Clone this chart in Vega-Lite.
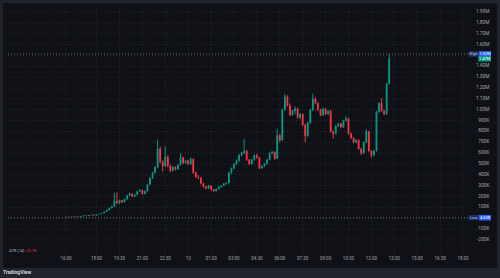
{
  "$schema": "https://vega.github.io/schema/vega-lite/v6.json",
  "width": 494,
  "height": 265,
  "autosize": "none",
  "padding": {"left": 3, "top": 3, "right": 3, "bottom": 10},
  "background": "#20232c",
  "title": {"text": "TradingView", "orient": "bottom", "anchor": "start", "fontSize": 5, "font": "Roboto", "fontWeight": "bold", "color": "#d1d4dc", "offset": 2},
  "config": {
    "view": {"fill": "#0f1117", "stroke": null},
    "font": "Roboto",
    "axis": {"disable": true}
  },
  "datasets": {
    "candles": [
      {"t":"2024-03-12T16:00Z","o":12,"h":15,"l":4.6,"c":10},
      {"t":"2024-03-12T16:10Z","o":10,"h":14,"l":8,"c":12},
      {"t":"2024-03-12T16:20Z","o":12,"h":16,"l":10,"c":14},
      {"t":"2024-03-12T16:30Z","o":14,"h":15,"l":9,"c":11},
      {"t":"2024-03-12T16:40Z","o":11,"h":16,"l":10,"c":15},
      {"t":"2024-03-12T16:50Z","o":15,"h":18,"l":12,"c":13},
      {"t":"2024-03-12T17:00Z","o":13,"h":22,"l":12,"c":20},
      {"t":"2024-03-12T17:10Z","o":20,"h":27,"l":18,"c":24},
      {"t":"2024-03-12T17:20Z","o":24,"h":26,"l":19,"c":21},
      {"t":"2024-03-12T17:30Z","o":21,"h":30,"l":20,"c":28},
      {"t":"2024-03-12T17:40Z","o":28,"h":34,"l":25,"c":31},
      {"t":"2024-03-12T17:50Z","o":31,"h":33,"l":24,"c":26},
      {"t":"2024-03-12T18:00Z","o":26,"h":36,"l":25,"c":34},
      {"t":"2024-03-12T18:10Z","o":34,"h":42,"l":32,"c":39},
      {"t":"2024-03-12T18:20Z","o":39,"h":50,"l":37,"c":47},
      {"t":"2024-03-12T18:30Z","o":47,"h":64,"l":45,"c":61},
      {"t":"2024-03-12T18:40Z","o":61,"h":80,"l":58,"c":76},
      {"t":"2024-03-12T18:50Z","o":76,"h":98,"l":72,"c":94},
      {"t":"2024-03-12T19:00Z","o":94,"h":115,"l":90,"c":108},
      {"t":"2024-03-12T19:10Z","o":108,"h":232,"l":104,"c":160},
      {"t":"2024-03-12T19:20Z","o":160,"h":238,"l":128,"c":138},
      {"t":"2024-03-12T19:30Z","o":138,"h":172,"l":130,"c":166},
      {"t":"2024-03-12T19:40Z","o":166,"h":170,"l":140,"c":148},
      {"t":"2024-03-12T19:50Z","o":148,"h":182,"l":144,"c":176},
      {"t":"2024-03-12T20:00Z","o":176,"h":216,"l":172,"c":210},
      {"t":"2024-03-12T20:10Z","o":210,"h":236,"l":204,"c":226},
      {"t":"2024-03-12T20:20Z","o":226,"h":230,"l":195,"c":201},
      {"t":"2024-03-12T20:30Z","o":201,"h":222,"l":196,"c":216},
      {"t":"2024-03-12T20:40Z","o":216,"h":252,"l":212,"c":246},
      {"t":"2024-03-12T20:50Z","o":246,"h":268,"l":240,"c":258},
      {"t":"2024-03-12T21:00Z","o":258,"h":262,"l":218,"c":224},
      {"t":"2024-03-12T21:10Z","o":224,"h":256,"l":220,"c":250},
      {"t":"2024-03-12T21:20Z","o":250,"h":318,"l":246,"c":310},
      {"t":"2024-03-12T21:30Z","o":310,"h":378,"l":304,"c":370},
      {"t":"2024-03-12T21:40Z","o":370,"h":428,"l":362,"c":420},
      {"t":"2024-03-12T21:50Z","o":420,"h":480,"l":412,"c":470},
      {"t":"2024-03-12T22:00Z","o":470,"h":725,"l":462,"c":640},
      {"t":"2024-03-12T22:10Z","o":640,"h":660,"l":505,"c":520},
      {"t":"2024-03-12T22:20Z","o":520,"h":535,"l":430,"c":480},
      {"t":"2024-03-12T22:30Z","o":480,"h":665,"l":472,"c":565},
      {"t":"2024-03-12T22:40Z","o":565,"h":580,"l":470,"c":482},
      {"t":"2024-03-12T22:50Z","o":482,"h":495,"l":425,"c":438},
      {"t":"2024-03-12T23:00Z","o":438,"h":480,"l":432,"c":472},
      {"t":"2024-03-12T23:10Z","o":472,"h":478,"l":440,"c":452},
      {"t":"2024-03-12T23:20Z","o":452,"h":500,"l":446,"c":492},
      {"t":"2024-03-12T23:30Z","o":492,"h":600,"l":486,"c":560},
      {"t":"2024-03-12T23:40Z","o":560,"h":568,"l":500,"c":510},
      {"t":"2024-03-12T23:50Z","o":510,"h":540,"l":502,"c":532},
      {"t":"2024-03-13T00:00Z","o":532,"h":538,"l":490,"c":498},
      {"t":"2024-03-13T00:10Z","o":498,"h":560,"l":492,"c":545},
      {"t":"2024-03-13T00:20Z","o":545,"h":552,"l":412,"c":420},
      {"t":"2024-03-13T00:30Z","o":420,"h":430,"l":372,"c":380},
      {"t":"2024-03-13T00:40Z","o":380,"h":398,"l":360,"c":372},
      {"t":"2024-03-13T00:50Z","o":372,"h":378,"l":312,"c":320},
      {"t":"2024-03-13T01:00Z","o":320,"h":326,"l":282,"c":290},
      {"t":"2024-03-13T01:10Z","o":290,"h":296,"l":266,"c":275},
      {"t":"2024-03-13T01:20Z","o":275,"h":308,"l":270,"c":300},
      {"t":"2024-03-13T01:30Z","o":300,"h":306,"l":258,"c":265},
      {"t":"2024-03-13T01:40Z","o":265,"h":270,"l":244,"c":250},
      {"t":"2024-03-13T01:50Z","o":250,"h":276,"l":246,"c":270},
      {"t":"2024-03-13T02:00Z","o":270,"h":296,"l":264,"c":290},
      {"t":"2024-03-13T02:10Z","o":290,"h":306,"l":282,"c":300},
      {"t":"2024-03-13T02:20Z","o":300,"h":326,"l":294,"c":320},
      {"t":"2024-03-13T02:30Z","o":320,"h":332,"l":310,"c":326},
      {"t":"2024-03-13T02:40Z","o":326,"h":428,"l":320,"c":420},
      {"t":"2024-03-13T02:50Z","o":420,"h":468,"l":410,"c":460},
      {"t":"2024-03-13T03:00Z","o":460,"h":508,"l":452,"c":500},
      {"t":"2024-03-13T03:10Z","o":500,"h":540,"l":492,"c":530},
      {"t":"2024-03-13T03:20Z","o":530,"h":590,"l":522,"c":580},
      {"t":"2024-03-13T03:30Z","o":580,"h":612,"l":572,"c":600},
      {"t":"2024-03-13T03:40Z","o":600,"h":730,"l":592,"c":622},
      {"t":"2024-03-13T03:50Z","o":622,"h":630,"l":528,"c":540},
      {"t":"2024-03-13T04:00Z","o":540,"h":548,"l":490,"c":500},
      {"t":"2024-03-13T04:10Z","o":500,"h":546,"l":494,"c":540},
      {"t":"2024-03-13T04:20Z","o":540,"h":588,"l":532,"c":580},
      {"t":"2024-03-13T04:30Z","o":580,"h":596,"l":550,"c":560},
      {"t":"2024-03-13T04:40Z","o":560,"h":566,"l":452,"c":462},
      {"t":"2024-03-13T04:50Z","o":462,"h":490,"l":456,"c":482},
      {"t":"2024-03-13T05:00Z","o":482,"h":508,"l":474,"c":502},
      {"t":"2024-03-13T05:10Z","o":502,"h":548,"l":496,"c":540},
      {"t":"2024-03-13T05:20Z","o":540,"h":608,"l":534,"c":600},
      {"t":"2024-03-13T05:30Z","o":600,"h":622,"l":590,"c":612},
      {"t":"2024-03-13T05:40Z","o":612,"h":618,"l":540,"c":550},
      {"t":"2024-03-13T05:50Z","o":550,"h":822,"l":544,"c":765},
      {"t":"2024-03-13T06:00Z","o":765,"h":778,"l":700,"c":720},
      {"t":"2024-03-13T06:10Z","o":720,"h":1010,"l":712,"c":1000},
      {"t":"2024-03-13T06:20Z","o":1000,"h":1150,"l":990,"c":1120},
      {"t":"2024-03-13T06:30Z","o":1120,"h":1135,"l":1030,"c":1040},
      {"t":"2024-03-13T06:40Z","o":1040,"h":1060,"l":940,"c":952},
      {"t":"2024-03-13T06:50Z","o":952,"h":1000,"l":944,"c":990},
      {"t":"2024-03-13T07:00Z","o":990,"h":1030,"l":960,"c":1010},
      {"t":"2024-03-13T07:10Z","o":1010,"h":1018,"l":920,"c":930},
      {"t":"2024-03-13T07:20Z","o":930,"h":970,"l":912,"c":960},
      {"t":"2024-03-13T07:30Z","o":960,"h":966,"l":850,"c":862},
      {"t":"2024-03-13T07:40Z","o":862,"h":870,"l":700,"c":760},
      {"t":"2024-03-13T07:50Z","o":760,"h":890,"l":752,"c":880},
      {"t":"2024-03-13T08:00Z","o":880,"h":1010,"l":872,"c":1000},
      {"t":"2024-03-13T08:10Z","o":1000,"h":1150,"l":992,"c":1100},
      {"t":"2024-03-13T08:20Z","o":1100,"h":1115,"l":1050,"c":1060},
      {"t":"2024-03-13T08:30Z","o":1060,"h":1070,"l":990,"c":1000},
      {"t":"2024-03-13T08:40Z","o":1000,"h":1010,"l":940,"c":950},
      {"t":"2024-03-13T08:50Z","o":950,"h":1020,"l":944,"c":1010},
      {"t":"2024-03-13T09:00Z","o":1010,"h":1016,"l":950,"c":960},
      {"t":"2024-03-13T09:10Z","o":960,"h":1000,"l":952,"c":990},
      {"t":"2024-03-13T09:20Z","o":990,"h":998,"l":790,"c":800},
      {"t":"2024-03-13T09:30Z","o":800,"h":808,"l":730,"c":780},
      {"t":"2024-03-13T09:40Z","o":780,"h":858,"l":772,"c":850},
      {"t":"2024-03-13T09:50Z","o":850,"h":880,"l":840,"c":872},
      {"t":"2024-03-13T10:00Z","o":872,"h":880,"l":830,"c":840},
      {"t":"2024-03-13T10:10Z","o":840,"h":908,"l":832,"c":900},
      {"t":"2024-03-13T10:20Z","o":900,"h":945,"l":892,"c":920},
      {"t":"2024-03-13T10:30Z","o":920,"h":926,"l":772,"c":780},
      {"t":"2024-03-13T10:40Z","o":780,"h":790,"l":732,"c":740},
      {"t":"2024-03-13T10:50Z","o":740,"h":748,"l":692,"c":700},
      {"t":"2024-03-13T11:00Z","o":700,"h":730,"l":690,"c":722},
      {"t":"2024-03-13T11:10Z","o":722,"h":728,"l":632,"c":640},
      {"t":"2024-03-13T11:20Z","o":640,"h":648,"l":582,"c":600},
      {"t":"2024-03-13T11:30Z","o":600,"h":708,"l":594,"c":700},
      {"t":"2024-03-13T11:40Z","o":700,"h":822,"l":692,"c":800},
      {"t":"2024-03-13T11:50Z","o":800,"h":806,"l":612,"c":620},
      {"t":"2024-03-13T12:00Z","o":620,"h":628,"l":560,"c":580},
      {"t":"2024-03-13T12:10Z","o":580,"h":630,"l":572,"c":622},
      {"t":"2024-03-13T12:20Z","o":622,"h":990,"l":614,"c":980},
      {"t":"2024-03-13T12:30Z","o":980,"h":1070,"l":970,"c":1060},
      {"t":"2024-03-13T12:40Z","o":1060,"h":1105,"l":982,"c":990},
      {"t":"2024-03-13T12:50Z","o":990,"h":1000,"l":950,"c":960},
      {"t":"2024-03-13T13:00Z","o":960,"h":1250,"l":955,"c":1240},
      {"t":"2024-03-13T13:10Z","o":1240,"h":1515,"l":1232,"c":1470}
    ],
    "gx": [
      {"t":"2024-03-12T16:00Z","s":"16:00"},{"t":"2024-03-12T18:00Z","s":"18:00"},{"t":"2024-03-12T19:30Z","s":"19:30"},
      {"t":"2024-03-12T21:00Z","s":"21:00"},{"t":"2024-03-12T22:30Z","s":"22:30"},{"t":"2024-03-13T00:00Z","s":"13"},
      {"t":"2024-03-13T01:30Z","s":"01:30"},{"t":"2024-03-13T03:00Z","s":"03:00"},{"t":"2024-03-13T04:30Z","s":"04:30"},
      {"t":"2024-03-13T06:00Z","s":"06:00"},{"t":"2024-03-13T07:30Z","s":"07:30"},{"t":"2024-03-13T09:00Z","s":"09:00"},
      {"t":"2024-03-13T10:30Z","s":"10:30"},{"t":"2024-03-13T12:00Z","s":"12:00"},{"t":"2024-03-13T13:30Z","s":"13:30"},
      {"t":"2024-03-13T15:00Z","s":"15:00"},{"t":"2024-03-13T16:30Z","s":"16:30"},{"t":"2024-03-13T18:00Z","s":"18:00"}
    ],
    "gy": [
      {"v":-200,"s":"-200K"},{"v":-100,"s":"-100K"},{"v":0,"s":"0"},{"v":100,"s":"100K"},{"v":200,"s":"200K"},
      {"v":300,"s":"300K"},{"v":400,"s":"400K"},{"v":500,"s":"500K"},{"v":600,"s":"600K"},{"v":700,"s":"700K"},
      {"v":800,"s":"800K"},{"v":900,"s":"900K"},{"v":1000,"s":"1.00M"},{"v":1100,"s":"1.10M"},{"v":1200,"s":"1.20M"},
      {"v":1300,"s":"1.30M"},{"v":1400,"s":"1.40M"},{"v":1500,"s":"1.50M"},{"v":1600,"s":"1.60M"},{"v":1700,"s":"1.70M"},
      {"v":1800,"s":"1.80M"},{"v":1900,"s":"1.90M"}
    ],
    "hl": [
      {"k": "High", "v": 1515, "txt": "1.52M"},
      {"k": "Low", "v": 4.6, "txt": "4.60K"}
    ],
    "cur": [
      {"v": 1470, "txt": "1.47M"}
    ]
  },
  "layer": [
    {
      "data": {"name": "gy"},
      "mark": {"type": "rule", "stroke": "#262a34", "strokeDash": [1, 2], "strokeWidth": 1},
      "encoding": {
        "x": {"datum": {"year": 2024, "month": 3, "date": 12, "hours": 12, "minutes": 12, "utc": true}, "type": "temporal", "axis": null,
          "scale": {"type": "utc", "nice": false, "domain": [
            {"year": 2024, "month": 3, "date": 12, "hours": 12, "minutes": 12, "utc": true},
            {"year": 2024, "month": 3, "date": 13, "hours": 19, "minutes": 54, "utc": true}]}},
        "x2": {"datum": {"year": 2024, "month": 3, "date": 13, "hours": 18, "minutes": 10, "utc": true}},
        "y": {"field": "v", "type": "quantitative", "axis": null, "scale": {"domain": [-413, 1939], "nice": false, "zero": false}}
      }
    },
    {
      "data": {"name": "gx"},
      "mark": {"type": "rule", "stroke": "#262a34", "strokeDash": [1, 2], "strokeWidth": 1},
      "encoding": {
        "x": {"field": "t", "type": "temporal", "axis": null},
        "y": {"datum": -342, "type": "quantitative", "axis": null},
        "y2": {"datum": 1939}
      }
    },
    {
      "data": {"name": "gy"},
      "transform": [{"filter": "datum.v != 1500 && datum.v != 0"}],
      "mark": {"type": "text", "fontSize": 4.8, "color": "#a3a6af", "align": "right", "baseline": "middle"},
      "encoding": {
        "x": {"datum": {"year": 2024, "month": 3, "date": 13, "hours": 19, "minutes": 44, "utc": true}, "type": "temporal", "axis": null},
        "y": {"field": "v", "type": "quantitative", "axis": null},
        "text": {"field": "s"}
      }
    },
    {
      "data": {"name": "gx"},
      "mark": {"type": "text", "fontSize": 4.5, "color": "#a3a6af", "align": "center", "baseline": "middle"},
      "encoding": {
        "x": {"field": "t", "type": "temporal", "axis": null},
        "y": {"datum": -377, "type": "quantitative", "axis": null},
        "text": {"field": "s"}
      }
    },
    {
      "data": {"name": "candles"},
      "mark": {"type": "rule", "strokeWidth": 1},
      "encoding": {
        "x": {"field": "t", "type": "temporal", "axis": null},
        "y": {"field": "l", "type": "quantitative", "axis": null},
        "y2": {"field": "h"},
        "color": {"condition": {"test": "datum.c >= datum.o", "value": "#089981"}, "value": "#f23645"}
      }
    },
    {
      "data": {"name": "candles"},
      "mark": {"type": "bar", "size": 1.8},
      "encoding": {
        "x": {"field": "t", "type": "temporal", "axis": null},
        "y": {"field": "o", "type": "quantitative", "axis": null},
        "y2": {"field": "c"},
        "color": {"condition": {"test": "datum.c >= datum.o", "value": "#089981"}, "value": "#f23645"}
      }
    },
    {
      "data": {"name": "hl"},
      "mark": {"type": "rule", "stroke": "#6a6d78", "strokeDash": [1, 2], "strokeWidth": 1},
      "encoding": {
        "x": {"datum": {"year": 2024, "month": 3, "date": 12, "hours": 12, "minutes": 12, "utc": true}, "type": "temporal", "axis": null},
        "x2": {"datum": {"year": 2024, "month": 3, "date": 13, "hours": 18, "minutes": 21, "utc": true}},
        "y": {"field": "v", "type": "quantitative", "axis": null}
      }
    },
    {
      "data": {"name": "hl"},
      "mark": {"type": "bar", "orient": "horizontal", "size": 5.5, "color": "#1b2f63"},
      "encoding": {
        "x": {"datum": {"year": 2024, "month": 3, "date": 13, "hours": 18, "minutes": 21, "utc": true}, "type": "temporal", "axis": null},
        "x2": {"datum": {"year": 2024, "month": 3, "date": 13, "hours": 19, "minutes": 3, "utc": true}},
        "y": {"field": "v", "type": "quantitative", "axis": null}
      }
    },
    {
      "data": {"name": "hl"},
      "mark": {"type": "bar", "orient": "horizontal", "size": 5.5, "color": "#2962ff"},
      "encoding": {
        "x": {"datum": {"year": 2024, "month": 3, "date": 13, "hours": 19, "minutes": 3, "utc": true}, "type": "temporal", "axis": null},
        "x2": {"datum": {"year": 2024, "month": 3, "date": 13, "hours": 19, "minutes": 50, "utc": true}},
        "y": {"field": "v", "type": "quantitative", "axis": null}
      }
    },
    {
      "data": {"name": "hl"},
      "mark": {"type": "text", "fontSize": 4, "color": "#c9ccd4", "align": "center", "baseline": "middle"},
      "encoding": {
        "x": {"datum": {"year": 2024, "month": 3, "date": 13, "hours": 18, "minutes": 42, "utc": true}, "type": "temporal", "axis": null},
        "y": {"field": "v", "type": "quantitative", "axis": null},
        "text": {"field": "k"}
      }
    },
    {
      "data": {"name": "hl"},
      "mark": {"type": "text", "fontSize": 4, "color": "#ffffff", "align": "center", "baseline": "middle"},
      "encoding": {
        "x": {"datum": {"year": 2024, "month": 3, "date": 13, "hours": 19, "minutes": 27, "utc": true}, "type": "temporal", "axis": null},
        "y": {"field": "v", "type": "quantitative", "axis": null},
        "text": {"field": "txt"}
      }
    },
    {
      "data": {"name": "cur"},
      "mark": {"type": "bar", "orient": "horizontal", "size": 5.5, "color": "#089981"},
      "encoding": {
        "x": {"datum": {"year": 2024, "month": 3, "date": 13, "hours": 19, "minutes": 0, "utc": true}, "type": "temporal", "axis": null},
        "x2": {"datum": {"year": 2024, "month": 3, "date": 13, "hours": 19, "minutes": 50, "utc": true}},
        "y": {"field": "v", "type": "quantitative", "axis": null}
      }
    },
    {
      "data": {"name": "cur"},
      "mark": {"type": "text", "fontSize": 4, "color": "#ffffff", "align": "center", "baseline": "middle"},
      "encoding": {
        "x": {"datum": {"year": 2024, "month": 3, "date": 13, "hours": 19, "minutes": 25, "utc": true}, "type": "temporal", "axis": null},
        "y": {"field": "v", "type": "quantitative", "axis": null},
        "text": {"field": "txt"}
      }
    },
    {
      "data": {"values": [{"s": "ATR (14)"}]},
      "mark": {"type": "text", "fontSize": 4, "color": "#b2b5be", "align": "left", "baseline": "middle"},
      "encoding": {
        "x": {"datum": {"year": 2024, "month": 3, "date": 12, "hours": 12, "minutes": 16, "utc": true}, "type": "temporal", "axis": null},
        "y": {"datum": -300, "type": "quantitative", "axis": null},
        "text": {"field": "s"}
      }
    },
    {
      "data": {"values": [{"s": "22.1K"}]},
      "mark": {"type": "text", "fontSize": 4, "color": "#f23645", "align": "left", "baseline": "middle"},
      "encoding": {
        "x": {"datum": {"year": 2024, "month": 3, "date": 12, "hours": 13, "minutes": 24, "utc": true}, "type": "temporal", "axis": null},
        "y": {"datum": -300, "type": "quantitative", "axis": null},
        "text": {"field": "s"}
      }
    }
  ]
}
